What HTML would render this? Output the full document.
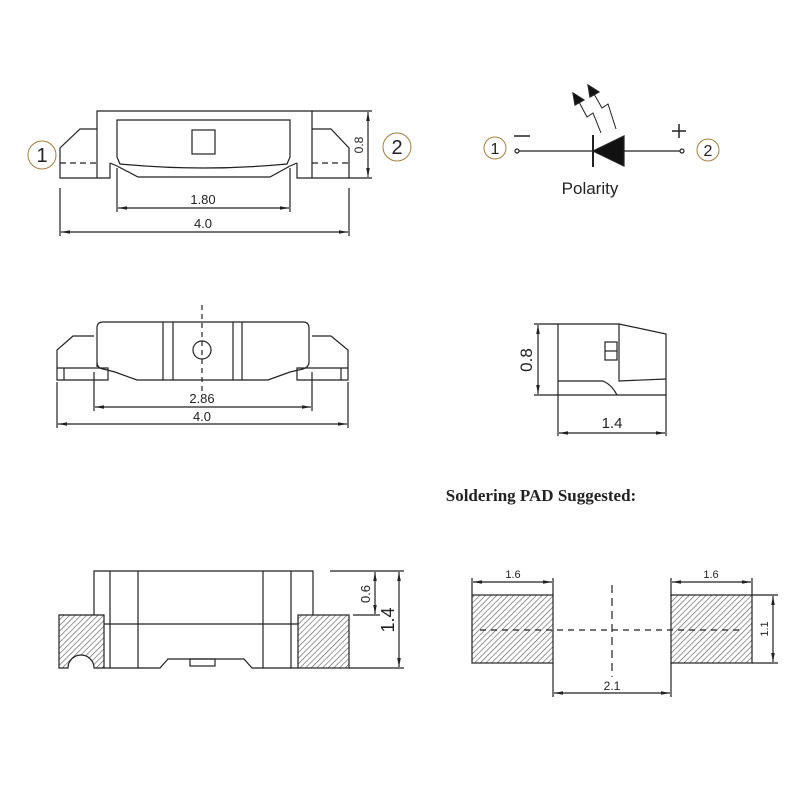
<!DOCTYPE html>
<html><head><meta charset="utf-8"><style>
html,body{margin:0;padding:0;background:#fff;}
svg{display:block;}
text{font-family:"Liberation Sans",sans-serif;fill:#222;}
</style></head><body>
<svg width="800" height="800" viewBox="0 0 800 800" xmlns="http://www.w3.org/2000/svg">
<defs>
<marker id="ar" viewBox="0 0 10 4" refX="10" refY="2" markerWidth="9" markerHeight="4" markerUnits="userSpaceOnUse" orient="auto-start-reverse"><path d="M0,0 L10,2 L0,4 z" fill="#222"/></marker>
<pattern id="h" patternUnits="userSpaceOnUse" width="4" height="4" patternTransform="rotate(45)"><rect width="4" height="4" fill="#fff"/><line x1="0" y1="0" x2="0" y2="4" stroke="#555" stroke-width="1.2"/></pattern>
</defs>
<g fill="none" stroke="#222" stroke-width="1.2">
<!-- TOP VIEW -->
<path d="M97,178 V111 H312 V178"/>
<path d="M97,129 H80 L60,148 V178 H110 V163 M117,166 L138,177 H270 L290,166 M297,163 V178 H349 V148 L331,129 H312"/>
<path d="M60,163 H97 M312,163 H349" stroke-dasharray="6,4"/>
<path d="M117,157 V120 H290 V157 L287,164 Q203,172 120,164 Z"/>
<path d="M110,163 L117,166 M297,163 L290,166"/>
<rect x="192" y="130" width="23" height="24"/>
<path d="M312,111 H372 M349,178 H372"/>
<line x1="368" y1="112" x2="368" y2="177" marker-start="url(#ar)" marker-end="url(#ar)"/>
<path d="M117,168 V212 M290,168 V212 M60,188 V236 M349,188 V236"/>
<line x1="118" y1="208" x2="289" y2="208" marker-start="url(#ar)" marker-end="url(#ar)"/>
<line x1="61" y1="232" x2="348" y2="232" marker-start="url(#ar)" marker-end="url(#ar)"/>
<circle cx="42" cy="155" r="14" stroke="#a08040" stroke-width="1"/>
<circle cx="397" cy="147" r="14" stroke="#a08040" stroke-width="1"/>

<!-- POLARITY -->
<line x1="519" y1="151" x2="680" y2="151"/>
<circle cx="517" cy="151" r="2"/>
<circle cx="682" cy="151" r="2"/>
<line x1="514" y1="136" x2="530" y2="136" stroke-width="1.5"/>
<path d="M672,131 H686 M679,124 V138" stroke-width="1.5"/>
<line x1="593" y1="135" x2="593" y2="167" stroke-width="2"/>
<path d="M593,151 L624,136 V166 Z" fill="#111"/>
<path d="M579,102 L587,117 L593,113 L601,133" stroke-width="1"/>
<path d="M594,94 L602,108 L608,104 L616,129" stroke-width="1"/>
<path d="M573,93 L575,105 L584,100 Z M588,85 L590,97 L599,92 Z" fill="#111"/>
<circle cx="495" cy="148" r="11" stroke="#a08040" stroke-width="1"/>
<circle cx="708" cy="150" r="11" stroke="#a08040" stroke-width="1"/>

<!-- MIDDLE LEFT -->
<path d="M97,367 V328 Q97,322 103,322 H303 Q309,322 309,328 V362 Q309,367 303,369 L290,372 L268,380 H137 L115,372 L103,369 Q97,368 97,362"/>
<path d="M163,322 V380 M173,322 V380 M233,322 V380 M242,322 V380"/>
<path d="M94,336 H73 L57,350 V380 H108 V368 H57 M64,368 V380 M312,336 H331 L348,350 V380 H297 V368 H348 M341,368 V380"/>
<line x1="202" y1="305" x2="202" y2="395" stroke-dasharray="5,4"/>
<circle cx="202" cy="350" r="9"/>
<path d="M94,372 V411 M312,372 V411 M57,382 V428 M348,382 V428"/>
<line x1="95" y1="407" x2="311" y2="407" marker-start="url(#ar)" marker-end="url(#ar)"/>
<line x1="58" y1="424" x2="347" y2="424" marker-start="url(#ar)" marker-end="url(#ar)"/>

<!-- MIDDLE RIGHT -->
<path d="M534,324 H619 L666,334 V395 H534"/>
<path d="M558,324 V436 M666,395 V436"/>
<path d="M619,324 V381 L666,379 M558,381 H603 Q612,385 617,395"/>
<rect x="605" y="342" width="12" height="18"/>
<line x1="605" y1="351" x2="617" y2="351"/>
<line x1="538" y1="325" x2="538" y2="394" marker-start="url(#ar)" marker-end="url(#ar)"/>
<line x1="559" y1="433" x2="665" y2="433" marker-start="url(#ar)" marker-end="url(#ar)"/>

<!-- BOTTOM LEFT -->
<path d="M94,615 V571 H313 V615"/>
<path d="M110,571 V668 M138,571 V668 M263,571 V668 M291,571 V668 M104,624 H298"/>
<path d="M104,668 H160 L168,659 H244 L252,668 H298"/>
<rect x="190" y="659" width="25" height="7"/>
<path d="M59,615 H104 V668 H94 A13,13 0 0 0 68,668 H59 Z" fill="url(#h)"/>
<rect x="298" y="615" width="51" height="53" fill="url(#h)"/>
<path d="M330,571 H404 M353,615 H380 M349,668 H404"/>
<line x1="375" y1="572" x2="375" y2="614" marker-start="url(#ar)" marker-end="url(#ar)"/>
<line x1="399" y1="572" x2="399" y2="667" marker-start="url(#ar)" marker-end="url(#ar)"/>

<!-- BOTTOM RIGHT -->
<rect x="472" y="595" width="81" height="68" fill="url(#h)"/>
<rect x="671" y="595" width="81" height="68" fill="url(#h)"/>
<path d="M472,595 V578 M553,595 V578 M671,595 V578 M752,595 V578 M752,595 H778 M752,663 H778 M553,663 V697 M671,663 V697"/>
<line x1="473" y1="582" x2="552" y2="582" marker-start="url(#ar)" marker-end="url(#ar)"/>
<line x1="672" y1="582" x2="751" y2="582" marker-start="url(#ar)" marker-end="url(#ar)"/>
<line x1="773" y1="596" x2="773" y2="662" marker-start="url(#ar)" marker-end="url(#ar)"/>
<line x1="554" y1="693" x2="670" y2="693" marker-start="url(#ar)" marker-end="url(#ar)"/>
<line x1="612" y1="585" x2="612" y2="677" stroke-dasharray="8,5"/>
<line x1="480" y1="630" x2="742" y2="630" stroke-dasharray="6,5"/>
</g>

<g font-size="13">
<text x="203" y="204" text-anchor="middle">1.80</text>
<text x="203" y="228" text-anchor="middle">4.0</text>
<text transform="translate(363,145) rotate(-90)" text-anchor="middle" font-size="12">0.8</text>
<text x="202" y="403" text-anchor="middle">2.86</text>
<text x="202" y="421" text-anchor="middle">4.0</text>
<text transform="translate(532,360) rotate(-90)" text-anchor="middle" font-size="17">0.8</text>
<text x="612" y="428" text-anchor="middle" font-size="15">1.4</text>
<text transform="translate(370,594) rotate(-90)" text-anchor="middle" font-size="13">0.6</text>
<text transform="translate(394,620) rotate(-90)" text-anchor="middle" font-size="18">1.4</text>
<text x="513" y="578" text-anchor="middle" font-size="11">1.6</text>
<text x="711" y="578" text-anchor="middle" font-size="11">1.6</text>
<text transform="translate(768,629) rotate(-90)" text-anchor="middle" font-size="11">1.1</text>
<text x="612" y="690" text-anchor="middle" font-size="12">2.1</text>
</g>
<text x="42" y="162" text-anchor="middle" font-size="20" font-family="Liberation Serif">1</text>
<text x="397" y="154" text-anchor="middle" font-size="20" font-family="Liberation Serif">2</text>
<text x="495" y="154" text-anchor="middle" font-size="16" font-family="Liberation Serif">1</text>
<text x="708" y="156" text-anchor="middle" font-size="16" font-family="Liberation Serif">2</text>
<text x="590" y="194" text-anchor="middle" font-size="17">Polarity</text>
<text x="541" y="501" text-anchor="middle" font-size="17" font-weight="bold" style="font-family:'Liberation Serif',serif">Soldering PAD Suggested:</text>
</svg>
</body></html>
